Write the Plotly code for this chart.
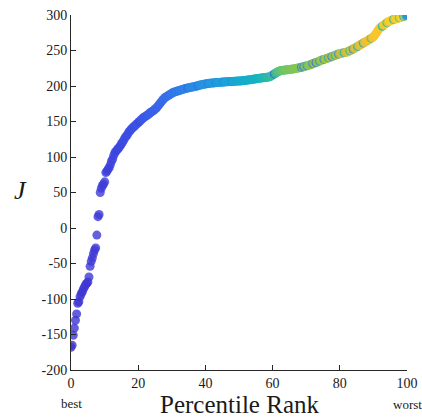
import plotly.graph_objects as go

# Objective values J, sorted ascending (one per run)
J_values = [
    -168, -165, -151, -141, -130, -121, -106, -104, -97, -93,
    -90, -86, -83, -80, -78, -76, -69, -54, -47, -42,
    -36, -31, -28, -10, 16, 19, 50, 56, 60, 62,
    65, 78, 80, 83, 85, 89, 94, 97, 102, 106,
    108, 110, 112, 114, 116, 119, 121, 124, 127, 129,
    131, 134, 136, 138, 140, 141, 143, 144, 146, 147,
    149, 150, 152, 153, 155, 156, 157, 158, 159, 160,
    162, 163, 164, 165, 166, 168, 169, 171, 173, 175,
    177, 179, 181, 183, 184, 185, 186, 187, 188, 189,
    190, 191, 191.5, 192, 192.5, 193, 193.5, 194, 194.5, 195,
    195.5, 196, 196.5, 197, 197.3, 197.6, 198, 198.3, 198.6, 199,
    199.3, 199.6, 200, 200.5, 201, 201.3, 201.6, 202, 202.3, 202.6,
    203, 203.2, 203.5, 203.8, 204,
    204.1, 204.3, 204.4, 204.6, 204.7, 204.9, 205, 205.1, 205.3, 205.4,
    205.5, 205.6, 205.8, 205.9, 206,
    206.1, 206.2, 206.3, 206.4, 206.5, 206.6, 206.7, 206.8, 206.9, 207,
    207.1, 207.2, 207.4, 207.5,
    207.7, 207.9, 208.1, 208.3, 208.5, 208.7, 209, 209.2, 209.4, 209.7,
    210, 210.2, 210.5, 210.7, 211,
    211.2, 211.4, 211.6, 211.8, 212, 212.3, 212.5, 212.8, 213,
    214, 215, 216, 217, 218, 219, 220, 220.8, 221.5,
    221.7, 222, 222.2, 222.4, 222.6, 222.8, 223, 223.2, 223.4, 223.6,
    223.9, 224.1, 224.4, 224.7, 225, 225.3, 225.6, 226,
    226.4, 226.8, 227.2, 227.6, 228, 228.5, 229, 229.5, 230,
    230.6, 231.2, 231.8, 232.4, 233, 233.6, 234.3, 235, 236,
    236.5, 237, 237.5, 238, 238.5, 239, 239.6, 240.2, 240.8, 241.4,
    242, 242.6, 243.2, 243.8, 244.4, 245, 245.5, 246,
    246.3, 246.6, 247, 247.3, 247.6, 248,
    248.8, 249.6, 250.4, 251.2, 252, 252.8, 253.7, 254.6, 255.5, 256.5, 257.7,
    258.6, 259.5, 260.4, 261.3, 262.2, 263.1, 264, 265, 266, 267, 268, 269,
    271, 273, 275.5, 278, 280, 282,
    283, 284.2, 285.4, 286.6, 287.8, 289, 290, 291, 292,
    292.5, 293, 293.5, 294, 294.5, 295, 295.5, 296, 296.5, 297,
    297.5, 298, 298.5, 299, 300,
]

# Colour variable per run (0 = violet, 1 = yellow)
C_values = [
    0.02, 0.02, 0.03, 0.02, 0.03, 0.03, 0.02, 0.03, 0.03, 0.04,
    0.03, 0.04, 0.03, 0.04, 0.04, 0.03, 0.04, 0.04, 0.05, 0.04,
    0.05, 0.04, 0.05, 0.05, 0.05, 0.06, 0.06, 0.06, 0.07, 0.06,
    0.07, 0.07, 0.08, 0.07, 0.08, 0.08, 0.09, 0.08, 0.09, 0.09,
    0.10, 0.09, 0.10, 0.10, 0.11, 0.10, 0.11, 0.11, 0.12, 0.12,
    0.12, 0.13, 0.12, 0.13, 0.13, 0.14, 0.13, 0.14, 0.14, 0.15,
    0.15, 0.10, 0.15, 0.16, 0.16, 0.17, 0.16, 0.17, 0.17, 0.18,
    0.18, 0.19, 0.18, 0.19, 0.20, 0.19, 0.20, 0.21, 0.20, 0.21,
    0.22, 0.21, 0.22, 0.23, 0.22, 0.23, 0.24, 0.23, 0.24, 0.25,
    0.25, 0.26, 0.25, 0.26, 0.27, 0.26, 0.27, 0.28, 0.27, 0.28,
    0.29, 0.28, 0.29, 0.30, 0.20, 0.30, 0.31, 0.30, 0.31, 0.32,
    0.31, 0.32, 0.33, 0.22, 0.33, 0.34, 0.33, 0.34, 0.35, 0.34,
    0.35, 0.36, 0.25, 0.36, 0.37,
    0.36, 0.37, 0.38, 0.37, 0.28, 0.38, 0.39, 0.38, 0.39, 0.40,
    0.39, 0.30, 0.40, 0.41, 0.40,
    0.41, 0.42, 0.41, 0.32, 0.42, 0.43, 0.42, 0.43, 0.44, 0.43,
    0.44, 0.45, 0.44, 0.45,
    0.46, 0.45, 0.46, 0.47, 0.46, 0.47, 0.48, 0.47, 0.48, 0.49,
    0.48, 0.49, 0.50, 0.49, 0.50,
    0.51, 0.52, 0.51, 0.53, 0.52, 0.54, 0.53, 0.55, 0.54,
    0.56, 0.57, 0.56, 0.20, 0.58, 0.59, 0.60, 0.61, 0.62,
    0.63, 0.62, 0.64, 0.63, 0.64, 0.65, 0.64, 0.65, 0.64, 0.65,
    0.66, 0.65, 0.66, 0.65, 0.66, 0.67, 0.66, 0.67,
    0.30, 0.67, 0.25, 0.68, 0.67, 0.35, 0.68, 0.69, 0.68,
    0.69, 0.28, 0.70, 0.69, 0.22, 0.70, 0.71, 0.40, 0.70,
    0.71, 0.72, 0.30, 0.72, 0.73, 0.72, 0.45, 0.73, 0.74, 0.25,
    0.74, 0.75, 0.50, 0.75, 0.76, 0.30, 0.77, 0.76,
    0.77, 0.78, 0.42, 0.78, 0.79, 0.78,
    0.80, 0.55, 0.80, 0.81, 0.35, 0.82, 0.81, 0.83, 0.50, 0.83, 0.84,
    0.84, 0.85, 0.45, 0.85, 0.86, 0.87, 0.86, 0.87, 0.88, 0.60, 0.88, 0.89,
    0.89, 0.90, 0.90, 0.91, 0.90, 0.91,
    0.92, 0.50, 0.91, 0.92, 0.93, 0.55, 0.92, 0.93, 0.94,
    0.93, 0.94, 0.45, 0.94, 0.93, 0.95, 0.94, 0.60, 0.95, 0.94,
    0.95, 0.40, 0.95, 0.50, 0.30,
]

x_ticks = [0, 20, 40, 60, 80, 100]
y_ticks = [-200, -150, -100, -50, 0, 50, 100, 150, 200, 250, 300]
y_tick_text = [str(v) for v in y_ticks]

n = len(J_values)
pct_rank = [100.0 * i / (n - 1) for i in range(n)]

colorscale = [
    [0.00, "#3f2fcc"],
    [0.10, "#3d45e0"],
    [0.20, "#3a63ea"],
    [0.30, "#2d86e6"],
    [0.40, "#1aa3d8"],
    [0.50, "#14b4c0"],
    [0.60, "#4cbf8a"],
    [0.65, "#7cc65a"],
    [0.72, "#a8c640"],
    [0.80, "#d8c038"],
    [0.88, "#f8c030"],
    [1.00, "#f8e020"],
]

FONT = "Liberation Serif"

fig = go.Figure()
fig.add_trace(go.Scatter(
    x=pct_rank, y=J_values, mode="markers",
    marker=dict(size=9, color=C_values, colorscale=colorscale, cmin=0, cmax=1,
                opacity=0.8, line=dict(width=0)),
    hoverinfo="skip", showlegend=False,
))

axis_common = dict(
    showgrid=False, zeroline=False, showline=True, linecolor="#262626", linewidth=1,
    ticks="inside", ticklen=5, tickcolor="#262626", tickwidth=1, automargin=False,
    tickfont=dict(family=FONT, size=14, color="#1a1a1a"),
)

fig.update_layout(
    width=422, height=419, autosize=False,
    margin=dict(l=71, r=15, t=15, b=49),
    paper_bgcolor="white", plot_bgcolor="white",
    xaxis=dict(range=[0, 100], tickvals=x_ticks, **axis_common),
    yaxis=dict(range=[-200, 300], tickvals=y_ticks, ticktext=y_tick_text, **axis_common),
    annotations=[
        dict(text="Percentile Rank", xref="paper", yref="paper", x=0.5, y=0,
             yshift=-34, xanchor="center", yanchor="middle", showarrow=False,
             font=dict(family=FONT, size=25, color="#1a1a1a")),
        dict(text="best", xref="x", yref="paper", x=0, y=0, yshift=-33,
             xanchor="center", yanchor="middle", showarrow=False,
             font=dict(family=FONT, size=13, color="#1a1a1a")),
        dict(text="worst", xref="x", yref="paper", x=100, y=0, yshift=-34,
             xanchor="center", yanchor="middle", showarrow=False,
             font=dict(family=FONT, size=13, color="#1a1a1a")),
        dict(text="<i>J</i>", xref="paper", yref="paper", x=0, y=0.507,
             xshift=-51, xanchor="center", yanchor="middle", showarrow=False,
             font=dict(family=FONT, size=26, color="#1a1a1a")),
    ],
)

fig.write_html("out.html", config={"displayModeBar": False},
               post_script="document.body.style.margin='0';document.body.style.padding='0';")
